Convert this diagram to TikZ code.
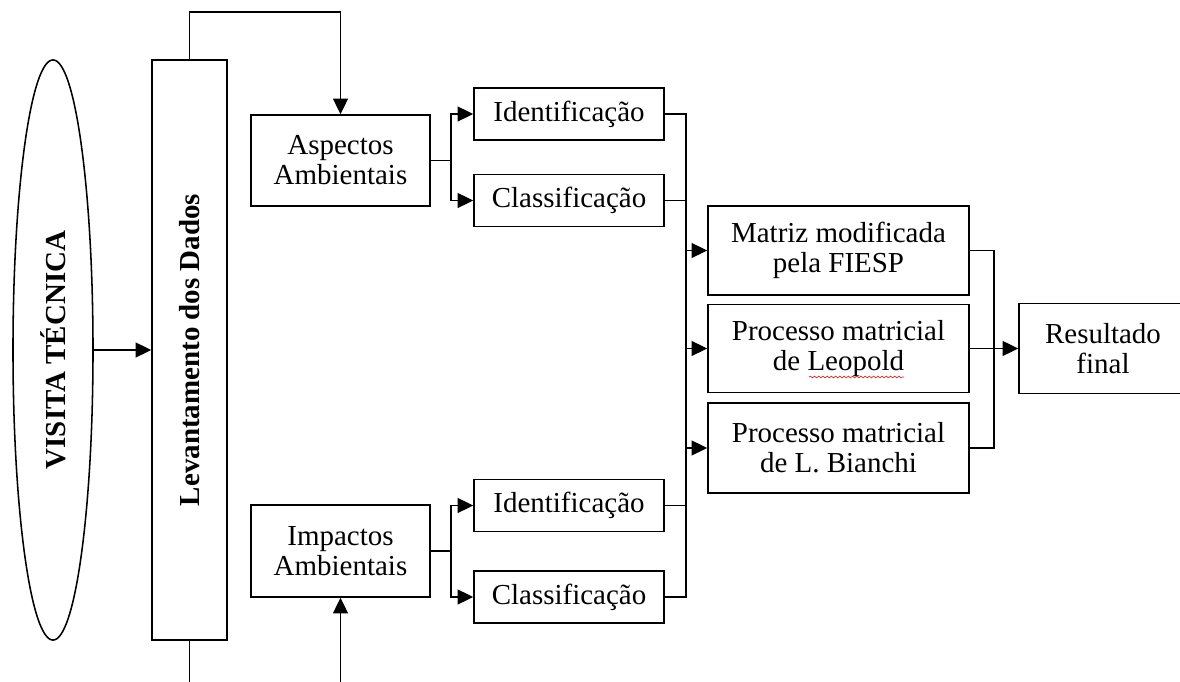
\documentclass[tikz,border=0pt]{standalone}
\usepackage{fontspec}
\setmainfont{Liberation Serif}
\usepackage{xcolor}
\usetikzlibrary{shapes,arrows.meta,positioning,calc,decorations.pathmorphing}
\definecolor{spellred}{RGB}{220,40,40}

\begin{document}
\begin{tikzpicture}[x=0.025cm, y=-0.025cm, line width=1.1pt,
    box/.style={draw, rectangle, inner sep=0pt, align=center,
        font=\fontsize{20.6}{21.4}\selectfont},
    arr/.style={-{Triangle[length=11pt,width=10.5pt]}}]
    \useasboundingbox (0,0) rectangle (1180,682);
    \clip (0,0) rectangle (1180,682);
    \node[draw, ellipse, inner sep=0pt, minimum width=2cm, minimum height=14.5cm,
        font=\fontsize{20.6}{21.4}\selectfont\bfseries] (visita) at (53,350)
        {\rotatebox{90}{VISITA TÉCNICA}};
    \node[box, minimum width=1.875cm, minimum height=14.5cm, font=\fontsize{20.6}{21.4}\selectfont\bfseries]
        (lev) at (189.5,350) {\rotatebox{90}{Levantamento dos Dados}};
    \node[box, minimum width=4.475cm, minimum height=2.275cm] (aspectos) at (340.5,160.5) {Aspectos\\Ambientais};
    \node[box, minimum width=4.475cm, minimum height=2.3cm] (impactos) at (340.5,551) {Impactos\\Ambientais};
    \node[box, minimum width=4.75cm, minimum height=1.3cm] (ident1) at (569,114) {Identificação};
    \node[box, minimum width=4.75cm, minimum height=1.3cm] (class1) at (569,200.5) {Classificação};
    \node[box, minimum width=4.75cm, minimum height=1.3cm] (ident2) at (569,505.5) {Identificação};
    \node[box, minimum width=4.75cm, minimum height=1.3cm] (class2) at (569,597) {Classificação};
    \node[box, minimum width=6.525cm, minimum height=2.225cm] (matriz) at (838.5,250.5) {Matriz modificada\\pela FIESP};
    \node[box, minimum width=6.525cm, minimum height=2.2cm] (leopold) at (838.5,348.5) {Processo matricial\\de Leopold};
    \node[box, minimum width=6.525cm, minimum height=2.25cm] (bianchi) at (838.5,448) {Processo matricial\\de L. Bianchi};
    \node[box, minimum width=4.2cm, minimum height=2.25cm] (resultado) at (1103,348.5) {Resultado\\final};
    \coordinate (busa) at (686,0);
    \coordinate (busb) at (994,0);
    \draw[arr] (visita.east) -- (lev.west);
    \draw[arr] (lev.north) -- ++(0,-47) -| (aspectos.north);
    \draw[arr] (lev.south) -- ++(0,60) -| (impactos.south);
    \draw (aspectos.east) -- ++(20,0) coordinate (forka);
    \draw[arr] (forka) |- (ident1.west);
    \draw[arr] (forka) |- (class1.west);
    \draw (impactos.east) -- ++(20,0) coordinate (forkb);
    \draw[arr] (forkb) |- (ident2.west);
    \draw[arr] (forkb) |- (class2.west);
    \draw (ident1.east) -| (busa |- class2.east) -- (class2.east);
    \draw (class1.east) -- (busa |- class1.east);
    \draw (ident2.east) -- (busa |- ident2.east);
    \draw[arr] (busa |- matriz.west) -- (matriz.west);
    \draw[arr] (busa |- leopold.west) -- (leopold.west);
    \draw[arr] (busa |- bianchi.west) -- (bianchi.west);
    \draw (matriz.east) -| (busb |- bianchi.east) -- (bianchi.east);
    \draw (leopold.east) -- (busb |- leopold.east);
    \draw[arr] (busb |- resultado.west) -- (resultado.west);
    \draw[spellred, line width=0.5pt, decorate,
        decoration={snake, amplitude=0.6pt, segment length=3pt}] (809,377) -- (904,377);
\end{tikzpicture}
\end{document}
